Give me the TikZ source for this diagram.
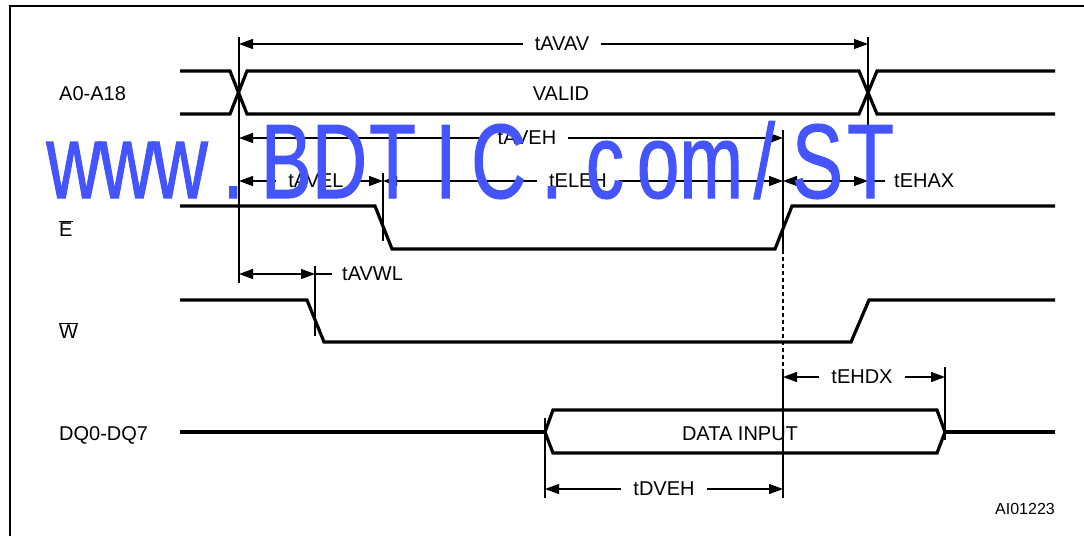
\documentclass[tikz,border=0pt]{standalone}
\usepackage{fontspec}
\setmainfont{Liberation Sans}
\newfontfamily\wmfont[FakeStretch=0.72,FakeBold=1]{Liberation Sans}
\usetikzlibrary{positioning}
\usetikzlibrary{arrows.meta}
\definecolor{wmblue}{RGB}{68,85,255}
\newcommand{\barsig}[1]{$\overline{\mbox{#1}}$}

\begin{document}
\begin{tikzpicture}
  [x=1pt, y=-1pt,
   every node/.style={font=\fontsize{20}{24}\selectfont, inner sep=0pt},
   wave/.style={line width=3.2pt},
   tick/.style={line width=1.2pt},
   dim/.style={line width=1.2pt, -{Triangle[length=14pt,width=10pt]}},
   dimboth/.style={line width=1.2pt, {Triangle[length=14pt,width=10pt]}-{Triangle[length=14pt,width=10pt]}},
   dimlabel/.style={inner xsep=12pt}]
  \useasboundingbox (0,0) rectangle (1084,536);
  \draw[line width=2pt] (10,536) -- (10,6) -- (1084,6);

  \node (addr) [anchor=base west] at (59,100) {A0-A18};
  \node (ebar) [anchor=base west] at (59,236) {\barsig{E}};
  \node (wbar) [anchor=base west] at (59,338) {\barsig{W}};
  \node (dq) [anchor=base west] at (59,440) {DQ0-DQ7};

  \draw[wave] (180,71) -- (230,71) -- (247,114) -- (859,114) -- (877,71) -- (1055,71);
  \draw[wave] (180,114) -- (230,114) -- (247,71) -- (859,71) -- (877,114) -- (1055,114);
  \node (valid) [anchor=base] at (561,100) {VALID};
  \draw[wave] (180,206) -- (375,206) -- (392,249) -- (775,249) -- (792,206) -- (1055,206);
  \draw[wave] (180,300) -- (307,300) -- (324,342) -- (851,342) -- (869,300) -- (1055,300);
  \draw[wave] (180,432) -- (545,432);
  \draw[wave] (545,432) -- (553,410) -- (937,410) -- (945,432) -- (937,453) -- (553,453) -- cycle;
  \draw[wave] (945,432) -- (1055,432);
  \node (data) [anchor=base] at (740,440) {DATA INPUT};

  \draw[tick] (239,37) -- (239,283);
  \draw[tick] (868,37) -- (868,190);
  \draw[tick] (383,173) -- (383,241);
  \draw[tick] (315,266) -- (315,336);
  \draw[tick] (783,130) -- (783,250);
  \draw[tick, dash pattern=on 4pt off 3pt] (783,250) -- (783,372);
  \draw[tick] (783,372) -- (783,498);
  \draw[tick] (945,367) -- (945,440);
  \draw[tick] (545,418) -- (545,498);

  \node (tavav) [dimlabel] at (562,44) {tAVAV};
  \draw[dim] (tavav) -- (239,44);
  \draw[dim] (tavav) -- (868,44);

  \node (taveh) [dimlabel] at (527,138) {tAVEH};
  \draw[dim] (taveh) -- (239,138);
  \draw[dim] (taveh) -- (783,138);

  \node (tavel) [dimlabel] at (316,181) {tAVEL};
  \draw[dim] (tavel) -- (239,181);
  \draw[dim] (tavel) -- (383,181);
  \node (teleh) [dimlabel] at (578,181) {tELEH};
  \draw[dim] (teleh) -- (383,181);
  \draw[dim] (teleh) -- (783,181);
  \node (tehax) [anchor=west] at (894,181) {tEHAX};
  \draw[dimboth] (783,181) -- (868,181);
  \draw[tick] (868,181) -- ([xshift=-9pt]tehax.west);

  \node (tavwl) [anchor=west] at (342,274) {tAVWL};
  \draw[dimboth] (239,274) -- (315,274);
  \draw[tick] (315,274) -- ([xshift=-10pt]tavwl.west);

  \node (tehdx) [dimlabel] at (862,377) {tEHDX};
  \draw[dim] (tehdx) -- (783,377);
  \draw[dim] (tehdx) -- (945,377);

  \node (tdveh) [dimlabel] at (664,489) {tDVEH};
  \draw[dim] (tdveh) -- (545,489);
  \draw[dim] (tdveh) -- (783,489);

  \node (ref) [anchor=base east, font=\fontsize{16}{19}\selectfont] at (1055,514) {AI01223};

  \foreach \ch [count=\i from 0] in {w,w,w,.,B,D,T,I,C,.,c,o,m,/,S,T}
    \node (wm\i) [anchor=base, text=wmblue, font=\wmfont\fontsize{106}{110}\selectfont] at (74+53.1*\i,198) {\ch};
\end{tikzpicture}
\end{document}
